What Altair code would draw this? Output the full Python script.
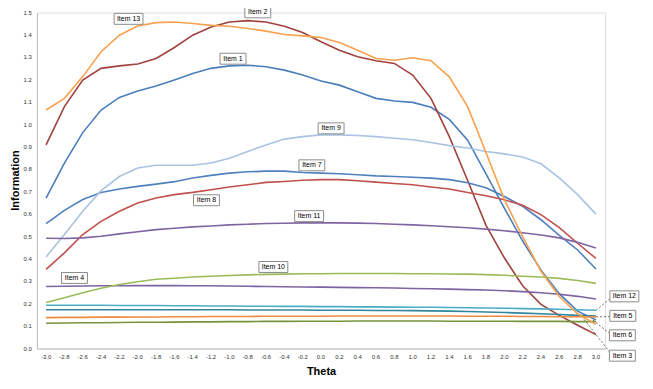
import altair as alt
import pandas as pd

theta = [-3.0, -2.8, -2.6, -2.4, -2.2, -2.0, -1.8, -1.6, -1.4, -1.2, -1.0,
         -0.8, -0.6, -0.4, -0.2, 0.0, 0.2, 0.4, 0.6, 0.8, 1.0,
         1.2, 1.4, 1.6, 1.8, 2.0, 2.2, 2.4, 2.6, 2.8, 3.0]

item1 = [0.672, 0.828, 0.964, 1.065, 1.121, 1.150, 1.172, 1.199, 1.228, 1.251, 1.262,
         1.265, 1.258, 1.243, 1.221, 1.194, 1.176, 1.147, 1.117, 1.105, 1.099,
         1.077, 1.023, 0.930, 0.780, 0.627, 0.480, 0.350, 0.245, 0.167, 0.128]
item2 = [0.909, 1.080, 1.199, 1.251, 1.262, 1.270, 1.295, 1.344, 1.399, 1.436, 1.458,
         1.464, 1.458, 1.439, 1.411, 1.370, 1.332, 1.303, 1.285, 1.273, 1.221,
         1.117, 0.946, 0.750, 0.550, 0.405, 0.280, 0.197, 0.148, 0.104, 0.062]
item3 = [0.113, 0.114, 0.115, 0.115, 0.116, 0.117, 0.117, 0.118, 0.119, 0.119, 0.120,
         0.120, 0.121, 0.121, 0.122, 0.122, 0.122, 0.123, 0.123, 0.123, 0.123,
         0.123, 0.122, 0.122, 0.122, 0.122, 0.121, 0.121, 0.121, 0.120, 0.120]
item4 = [0.277, 0.278, 0.279, 0.280, 0.280, 0.281, 0.281, 0.281, 0.280, 0.280, 0.279,
         0.278, 0.277, 0.276, 0.275, 0.274, 0.273, 0.272, 0.271, 0.270, 0.268,
         0.267, 0.265, 0.263, 0.261, 0.258, 0.254, 0.249, 0.242, 0.233, 0.221]
item5 = [0.173, 0.173, 0.173, 0.173, 0.173, 0.173, 0.173, 0.173, 0.173, 0.173, 0.173,
         0.172, 0.172, 0.172, 0.172, 0.171, 0.171, 0.171, 0.170, 0.170, 0.169,
         0.168, 0.167, 0.165, 0.163, 0.161, 0.158, 0.155, 0.152, 0.148, 0.145]
item6 = [0.138, 0.139, 0.139, 0.140, 0.140, 0.141, 0.141, 0.142, 0.142, 0.143, 0.143,
         0.143, 0.144, 0.144, 0.144, 0.144, 0.145, 0.145, 0.145, 0.145, 0.145,
         0.145, 0.145, 0.144, 0.144, 0.144, 0.143, 0.143, 0.142, 0.142, 0.141]
item7 = [0.558, 0.617, 0.665, 0.697, 0.712, 0.724, 0.734, 0.745, 0.761, 0.773, 0.783,
         0.789, 0.792, 0.792, 0.786, 0.783, 0.780, 0.776, 0.771, 0.768, 0.765,
         0.761, 0.754, 0.740, 0.718, 0.679, 0.635, 0.575, 0.505, 0.440, 0.355]
item8 = [0.353, 0.427, 0.509, 0.568, 0.613, 0.650, 0.672, 0.687, 0.697, 0.709, 0.721,
         0.731, 0.742, 0.746, 0.751, 0.754, 0.754, 0.749, 0.743, 0.737, 0.731,
         0.721, 0.712, 0.697, 0.682, 0.664, 0.640, 0.598, 0.540, 0.470, 0.402]
item9 = [0.409, 0.509, 0.613, 0.705, 0.768, 0.806, 0.818, 0.818, 0.818, 0.828, 0.850,
         0.880, 0.909, 0.935, 0.946, 0.954, 0.954, 0.951, 0.946, 0.939, 0.932,
         0.920, 0.906, 0.895, 0.880, 0.869, 0.855, 0.825, 0.762, 0.687, 0.600]
item10 = [0.205, 0.227, 0.249, 0.269, 0.286, 0.298, 0.309, 0.314, 0.319, 0.323, 0.326,
          0.329, 0.331, 0.332, 0.334, 0.334, 0.335, 0.335, 0.335, 0.335, 0.334,
          0.334, 0.333, 0.332, 0.330, 0.327, 0.323, 0.319, 0.313, 0.304, 0.291]
item11 = [0.492, 0.491, 0.494, 0.501, 0.512, 0.521, 0.531, 0.537, 0.543, 0.547, 0.552,
          0.555, 0.558, 0.559, 0.561, 0.561, 0.561, 0.560, 0.558, 0.555, 0.552,
          0.548, 0.544, 0.539, 0.533, 0.526, 0.517, 0.507, 0.494, 0.474, 0.449]
item12 = [0.193, 0.193, 0.193, 0.193, 0.192, 0.192, 0.192, 0.191, 0.191, 0.190, 0.190,
          0.189, 0.189, 0.188, 0.188, 0.187, 0.187, 0.186, 0.186, 0.185, 0.184,
          0.184, 0.183, 0.182, 0.181, 0.180, 0.178, 0.177, 0.175, 0.173, 0.171]
item13 = [1.065, 1.117, 1.214, 1.325, 1.399, 1.440, 1.455, 1.458, 1.451, 1.443, 1.439,
          1.429, 1.417, 1.402, 1.396, 1.389, 1.366, 1.332, 1.295, 1.287, 1.298,
          1.285, 1.213, 1.080, 0.875, 0.665, 0.500, 0.345, 0.232, 0.155, 0.108]

names = ["Item 1", "Item 2", "Item 3", "Item 4", "Item 5", "Item 6", "Item 7",
         "Item 8", "Item 9", "Item 10", "Item 11", "Item 12", "Item 13"]
series = [item1, item2, item3, item4, item5, item6, item7,
          item8, item9, item10, item11, item12, item13]
colors = ["#4A7EBB", "#A0413E", "#77933C", "#7E62A1", "#31859C", "#EE8A3F", "#4F81BD",
          "#C0504D", "#A9C3E1", "#9BBB59", "#8064A2", "#4BACC6", "#F9A04E"]

# label anchors (data units)
label_text = ["Item 13", "Item 2", "Item 1", "Item 9", "Item 7", "Item 8", "Item 11",
              "Item 10", "Item 4", "Item 12", "Item 5", "Item 6", "Item 3"]
label_theta = [-2.10, -0.69, -0.96, 0.11, -0.10, -1.25, -0.13, -0.52, -2.69,
               3.31, 3.293, 3.288, 3.288]
label_info = [1.472, 1.501, 1.294, 0.983, 0.818, 0.662, 0.591, 0.364, 0.315,
              0.233, 0.146, 0.059, -0.032]

# leader lines for right-side labels
lead_theta = [3.152, 3.152, 3.152, 3.152]
lead_info = [0.2225, 0.142, 0.066, -0.017]
lead_theta2 = [3.0, 3.0, 2.946, 2.87]
lead_info2 = [0.170, 0.142, 0.134, 0.130]

y_ticks = [0.0, 0.1, 0.2, 0.3, 0.4, 0.5, 0.6, 0.7, 0.8, 0.9, 1.0, 1.1, 1.2, 1.3, 1.4, 1.5]

rows = []
for n, s in zip(names, series):
    for t, v in zip(theta, s):
        rows.append({"item": n, "theta": t, "info": v})
df = pd.DataFrame(rows)

lab = pd.DataFrame({"label": label_text, "theta": label_theta, "info": label_info})
lab["wide"] = lab["label"].str.len() > 6
lead = pd.DataFrame({"theta": lead_theta, "info": lead_info,
                     "theta2": lead_theta2, "info2": lead_info2})
xlab = pd.DataFrame({"theta": theta, "info": [0.0] * len(theta),
                     "txt": [("%.1f" % t).replace("-0.0", "0.0") for t in theta]})
ylab = pd.DataFrame({"info": y_ticks, "txt": ["%.1f" % v for v in y_ticks]})

FONT = "Liberation Sans"

xscale = alt.Scale(domain=[-3.1, 3.1], nice=False, zero=False)
yscale = alt.Scale(domain=[0, 1.5], nice=False)

xaxis = alt.Axis(
    values=theta, title="Theta", grid=False, ticks=False, labels=False,
    domainColor="#BFBFBF", domainWidth=1,
    titleFont=FONT, titleFontSize=11, titleFontWeight="bold", titleColor="#000000",
    titleY=23, titleBaseline="middle",
)
yaxis = alt.Axis(
    values=y_ticks, title="Information", grid=False, ticks=False, labels=False,
    domainColor="#BFBFBF", domainWidth=1,
    titleFont=FONT, titleFontSize=11, titleFontWeight="bold", titleColor="#000000",
    titleX=-21, titleY=168, titleBaseline="middle", titleAngle=-90,
)

lines = alt.Chart(df).mark_line(strokeWidth=1.6).encode(
    x=alt.X("theta:Q", scale=xscale, axis=xaxis),
    y=alt.Y("info:Q", scale=yscale, axis=yaxis),
    color=alt.Color("item:N", scale=alt.Scale(domain=names, range=colors), legend=None),
    order=alt.Order("theta:Q"),
)

xlabels = alt.Chart(xlab).mark_text(
    fontSize=6, font=FONT, color="#333333", dy=9, baseline="middle"
).encode(
    x=alt.X("theta:Q", scale=xscale),
    y=alt.Y("info:Q", scale=yscale),
    text="txt:N",
)

ylabels = alt.Chart(ylab).mark_text(
    fontSize=6, font=FONT, color="#333333", align="right", baseline="middle"
).encode(
    x=alt.value(-5),
    y=alt.Y("info:Q", scale=yscale),
    text="txt:N",
)

leaders = alt.Chart(lead).mark_rule(strokeWidth=0.8, color="#444444", strokeDash=[2, 2]).encode(
    x=alt.X("theta:Q", scale=xscale),
    y=alt.Y("info:Q", scale=yscale),
    x2="theta2:Q",
    y2="info2:Q",
)

box_w = alt.Chart(lab).transform_filter("datum.wide").mark_rect(
    width=29, height=11, fill="white", stroke="#8C8C8C", strokeWidth=1
).encode(x=alt.X("theta:Q", scale=xscale), y=alt.Y("info:Q", scale=yscale))

box_n = alt.Chart(lab).transform_filter("!datum.wide").mark_rect(
    width=26, height=11, fill="white", stroke="#8C8C8C", strokeWidth=1
).encode(x=alt.X("theta:Q", scale=xscale), y=alt.Y("info:Q", scale=yscale))

texts = alt.Chart(lab).mark_text(fontSize=7, font=FONT, color="#000000").encode(
    x=alt.X("theta:Q", scale=xscale),
    y=alt.Y("info:Q", scale=yscale),
    text="label:N",
)

chart = alt.layer(lines, xlabels, ylabels, leaders, box_w, box_n, texts).properties(
    width=570, height=337,
    autosize=alt.AutoSizeParams(type="none"),
    padding={"left": 29, "top": 4, "right": 40, "bottom": 32},
).configure_view(strokeWidth=0).configure(background="white")

chart.save("out.html", embed_options={"renderer": "svg", "actions": False})
